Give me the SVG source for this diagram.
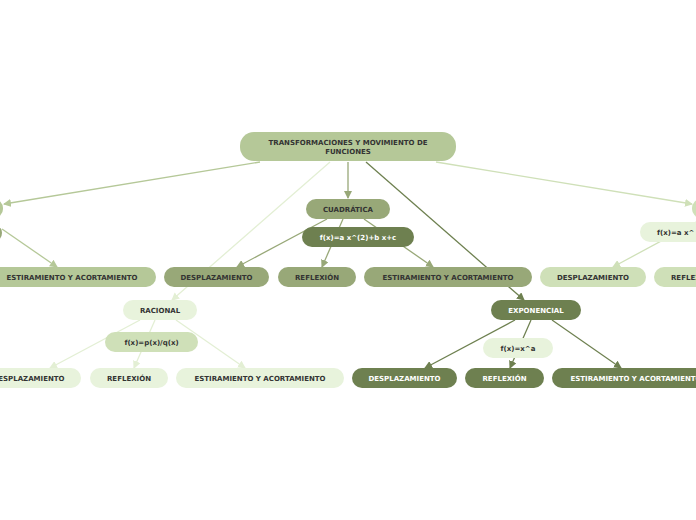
<svg xmlns="http://www.w3.org/2000/svg" width="696" height="520" viewBox="0 0 696 520">
<style>
text{font-family:"DejaVu Sans",Verdana,sans-serif;font-weight:bold;font-size:7px;text-anchor:middle;fill:#333333}
text.w{fill:#ffffff}
.c1{fill:#b5c898}
.c2{fill:#98a878}
.c3{fill:#6e8050}
.c4{fill:#e8f3dc}
.c5{fill:#cfe0b8}
.e{fill:none;stroke-width:1.3}
</style>
<defs>
<marker id="a1" markerWidth="8" markerHeight="8" refX="7" refY="4" orient="auto" markerUnits="userSpaceOnUse"><path d="M0,0 L8,4 L0,8 z" fill="#b5c898"/></marker>
<marker id="a2" markerWidth="8" markerHeight="8" refX="7" refY="4" orient="auto" markerUnits="userSpaceOnUse"><path d="M0,0 L8,4 L0,8 z" fill="#98a878"/></marker>
<marker id="a3" markerWidth="8" markerHeight="8" refX="7" refY="4" orient="auto" markerUnits="userSpaceOnUse"><path d="M0,0 L8,4 L0,8 z" fill="#6e8050"/></marker>
<marker id="a4" markerWidth="8" markerHeight="8" refX="7" refY="4" orient="auto" markerUnits="userSpaceOnUse"><path d="M0,0 L8,4 L0,8 z" fill="#e3efd4"/></marker>
<marker id="a5" markerWidth="8" markerHeight="8" refX="7" refY="4" orient="auto" markerUnits="userSpaceOnUse"><path d="M0,0 L8,4 L0,8 z" fill="#cfe0b8"/></marker>
</defs>
<g id="connectors">
<path class="e" stroke="#b5c898" d="M260,162 L4,204" marker-end="url(#a1)"/>
<path class="e" stroke="#b5c898" d="M2,229 L57,267" marker-end="url(#a1)"/>
<path class="e" stroke="#98a878" d="M348,162 L348,198" marker-end="url(#a2)"/>
<path class="e" stroke="#98a878" d="M327,219 L237,267" marker-end="url(#a2)"/>
<path class="e" stroke="#98a878" d="M343,219 L322,267" marker-end="url(#a2)"/>
<path class="e" stroke="#98a878" d="M364,219 L433,267" marker-end="url(#a2)"/>
<path class="e" stroke="#e3efd4" d="M330,162 L172,300" marker-end="url(#a4)"/>
<path class="e" stroke="#e3efd4" d="M140,320 L50,368" marker-end="url(#a4)"/>
<path class="e" stroke="#e3efd4" d="M155,320 L134,368" marker-end="url(#a4)"/>
<path class="e" stroke="#e3efd4" d="M176,320 L245,368" marker-end="url(#a4)"/>
<path class="e" stroke="#6e8050" d="M366,162 L524,300" marker-end="url(#a3)"/>
<path class="e" stroke="#6e8050" d="M515,320 L425,368" marker-end="url(#a3)"/>
<path class="e" stroke="#6e8050" d="M531,320 L510,368" marker-end="url(#a3)"/>
<path class="e" stroke="#6e8050" d="M552,320 L621,368" marker-end="url(#a3)"/>
<path class="e" stroke="#cfe0b8" d="M436,162 L692,204" marker-end="url(#a5)"/>
<path class="e" stroke="#cfe0b8" d="M700,220 L613,267" marker-end="url(#a5)"/>
</g>
<g id="root"><rect class="c1" x="240" y="132" width="216" height="29" rx="14"/><text x="348" y="145">TRANSFORMACIONES Y MOVIMIENTO DE</text><text x="348" y="154">FUNCIONES</text></g>
<g id="left-main"><rect class="c1" x="-100" y="199" width="103" height="19" rx="9"/></g>
<g id="left-formula"><rect class="c2" x="-100" y="224" width="102" height="18" rx="9"/></g>
<g id="left-estiramiento"><rect class="c1" x="-12" y="267" width="168" height="20" rx="10"/><text x="72" y="280">ESTIRAMIENTO Y ACORTAMIENTO</text></g>
<g id="cuadratica"><rect class="c2" x="306" y="199" width="84" height="20" rx="10"/><text x="348" y="212">CUADRÁTICA</text></g>
<g id="cuadratica-formula"><rect class="c3" x="302" y="227" width="112" height="20" rx="10"/><text class="w" x="358" y="240">f(x)=a x^(2)+b x+c</text></g>
<g id="cuad-desp"><rect class="c2" x="164" y="267" width="105" height="20" rx="10"/><text x="216.5" y="280">DESPLAZAMIENTO</text></g>
<g id="cuad-refl"><rect class="c2" x="278" y="267" width="78" height="20" rx="10"/><text x="317" y="280">REFLEXIÓN</text></g>
<g id="cuad-est"><rect class="c2" x="364" y="267" width="168" height="20" rx="10"/><text x="448" y="280">ESTIRAMIENTO Y ACORTAMIENTO</text></g>
<g id="racional"><rect class="c4" x="123" y="300" width="74" height="20" rx="10"/><text x="160" y="313">RACIONAL</text></g>
<g id="racional-formula"><rect class="c5" x="105" y="332" width="93" height="20" rx="10"/><text x="151.5" y="345">f(x)=p(x)/q(x)</text></g>
<g id="rac-desp"><rect class="c4" x="-24" y="368" width="105" height="20" rx="10"/><text x="28.5" y="381">DESPLAZAMIENTO</text></g>
<g id="rac-refl"><rect class="c4" x="90" y="368" width="78" height="20" rx="10"/><text x="129" y="381">REFLEXIÓN</text></g>
<g id="rac-est"><rect class="c4" x="176" y="368" width="168" height="20" rx="10"/><text x="260" y="381">ESTIRAMIENTO Y ACORTAMIENTO</text></g>
<g id="exponencial"><rect class="c3" x="491" y="300" width="90" height="20" rx="10"/><text class="w" x="536" y="313">EXPONENCIAL</text></g>
<g id="exponencial-formula"><rect class="c4" x="483" y="338" width="70" height="20" rx="10"/><text x="518" y="351">f(x)=x^a</text></g>
<g id="exp-desp"><rect class="c3" x="352" y="368" width="105" height="20" rx="10"/><text class="w" x="404.5" y="381">DESPLAZAMIENTO</text></g>
<g id="exp-refl"><rect class="c3" x="465" y="368" width="79" height="20" rx="10"/><text class="w" x="504.5" y="381">REFLEXIÓN</text></g>
<g id="exp-est"><rect class="c3" x="552" y="368" width="168" height="20" rx="10"/><text class="w" x="636" y="381">ESTIRAMIENTO Y ACORTAMIENTO</text></g>
<g id="right-main"><rect class="c5" x="692" y="199" width="100" height="19" rx="9"/></g>
<g id="right-formula"><rect class="c4" x="640" y="222" width="120" height="20" rx="10"/><text x="657" y="235" style="text-anchor:start">f(x)=a x^</text></g>
<g id="right-desp"><rect class="c5" x="540" y="267" width="106" height="20" rx="10"/><text x="593" y="280">DESPLAZAMIENTO</text></g>
<g id="right-refl"><rect class="c5" x="654" y="267" width="78" height="20" rx="10"/><text x="693" y="280">REFLEXIÓN</text></g>
</svg>
